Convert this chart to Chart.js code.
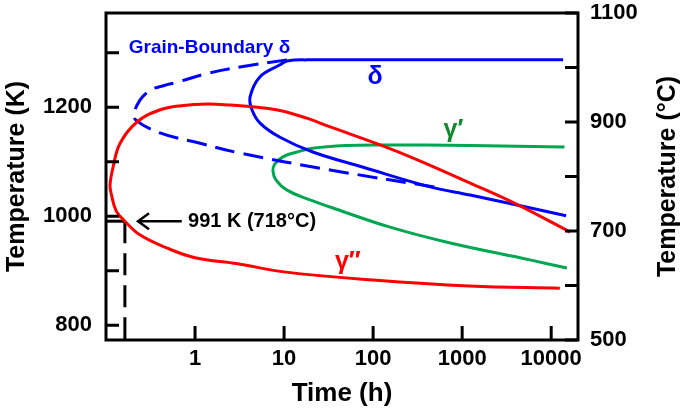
<!DOCTYPE html>
<html>
<head>
<meta charset="utf-8">
<script src="https://cdn.jsdelivr.net/npm/chart.js@4.4.0/dist/chart.umd.min.js"></script>
<style>
  html, body { margin: 0; padding: 0; background: #fff; }
</style>
</head>
<body>
<canvas id="ttt" width="685" height="414"></canvas>
<script>
// Time in hours, temperature in K
const gammaDPTime = [16300, 4240, 1230, 300, 120, 33, 18, 9, 5, 2.5, 1.4, 0.7, 0.4, 0.223, 0.144, 0.12, 0.111, 0.115, 0.13, 0.163, 0.24, 0.48, 1, 3, 10, 100, 1200, 12500];
const gammaDPTemp = [971, 1021, 1061, 1105, 1131, 1164, 1180, 1194, 1200, 1204, 1206, 1203, 1195, 1173, 1134, 1090, 1057, 1040, 1010, 991, 966, 942, 924, 913, 898, 883, 872, 868];

const deltaTime = [13600, 300, 18.2, 10.8, 9.0, 5.37, 4.15, 4.37, 5.37, 9.0, 21, 77.6, 437, 1230, 14700];
const deltaTemp = [1287, 1287, 1287, 1285, 1278, 1256, 1219, 1195, 1171, 1145, 1118, 1090, 1054, 1039, 1001];

const gbDeltaTime = [10.8, 3.2, 1.36, 0.63, 0.45, 0.33, 0.26, 0.225, 0.21, 0.215, 0.404, 1.14, 3.2, 32.9, 566];
const gbDeltaTemp = [1287, 1274, 1262, 1246, 1240, 1233, 1220, 1205, 1191, 1177, 1153, 1134, 1116, 1085, 1052];

const gammaPTime = [14100, 1230, 120, 50, 21, 14, 9.7, 7.8, 7.5, 8.1, 10.8, 19.6, 32.9, 155, 735, 5770, 15000];
const gammaPTemp = [1127, 1130, 1131, 1130, 1125, 1118, 1109, 1095, 1083, 1067, 1048, 1030, 1017, 980, 951, 920, 905];

const markTime = [0.163, 0.163];
const markTemp = [991, 773];
const markTickTime = [0.1, 0.163];
const markTickTemp = [991, 991];

const timeTicks = [1, 10, 100, 1000, 10000];
const kelvinTicks = [800, 900, 1000, 1100, 1200, 1300];
const celsiusTicks = [500, 600, 700, 800, 900, 1000, 1100];

const FONT = "'Liberation Sans', Arial, sans-serif";

function pts(xs, ys) {
  return xs.map((x, i) => ({ x: x, y: ys[i] }));
}

function curve(label, xs, ys, color, dash) {
  return {
    label: label,
    data: pts(xs, ys),
    borderColor: color,
    borderWidth: 3,
    borderDash: dash || [],
    pointRadius: 0,
    showLine: true,
    fill: false,
    tension: 0.4
  };
}

const decor = {
  id: 'decor',
  afterDraw(chart) {
    const ctx = chart.ctx;
    const a = chart.chartArea;
    const sx = chart.scales.x, sy = chart.scales.y, sc = chart.scales.yC;
    ctx.save();
    ctx.strokeStyle = '#000';
    ctx.lineWidth = 3;
    ctx.strokeRect(a.left, a.top, a.right - a.left, a.bottom - a.top);

    // inward tick marks
    ctx.beginPath();
    timeTicks.forEach(v => {
      const px = sx.getPixelForValue(v);
      ctx.moveTo(px, a.bottom); ctx.lineTo(px, a.bottom - 14);
    });
    kelvinTicks.forEach(v => {
      const py = sy.getPixelForValue(v);
      ctx.moveTo(a.left, py); ctx.lineTo(a.left + 13, py);
    });
    celsiusTicks.forEach(v => {
      const py = sc.getPixelForValue(v);
      ctx.moveTo(a.right, py); ctx.lineTo(a.right - 13, py);
    });
    ctx.stroke();

    // arrow to 991 K
    const ay = sy.getPixelForValue(991);
    const ax0 = sx.getPixelForValue(0.229), ax1 = sx.getPixelForValue(0.71);
    ctx.lineWidth = 2.5;
    ctx.beginPath();
    ctx.moveTo(ax1, ay); ctx.lineTo(ax0 + 2, ay);
    ctx.moveTo(ax0 + 11, ay - 8); ctx.lineTo(ax0, ay); ctx.lineTo(ax0 + 11, ay + 8);
    ctx.stroke();

    ctx.textBaseline = 'middle';
    ctx.textAlign = 'left';
    ctx.fillStyle = '#000';
    ctx.font = 'bold 20px ' + FONT;
    ctx.fillText('991 K (718°C)', sx.getPixelForValue(0.834), ay);

    ctx.fillStyle = '#0000ff';
    ctx.font = 'bold 19px ' + FONT;
    ctx.fillText('Grain-Boundary δ', sx.getPixelForValue(0.18), sy.getPixelForValue(1309));

    ctx.textAlign = 'center';
    ctx.font = 'bold 25px ' + FONT;
    ctx.fillText('δ', sx.getPixelForValue(105), sy.getPixelForValue(1256));

    ctx.fillStyle = '#108a2c';
    ctx.fillText('γ′', sx.getPixelForValue(800), sy.getPixelForValue(1158));

    ctx.fillStyle = '#ff0000';
    ctx.fillText('γ″', sx.getPixelForValue(52), sy.getPixelForValue(916));

    // right axis title, reads bottom to top
    ctx.fillStyle = '#000';
    ctx.font = 'bold 25px ' + FONT;
    ctx.translate(668, (a.top + a.bottom) / 2);
    ctx.rotate(-Math.PI / 2);
    ctx.fillText('Temperature (°C)', 0, 0);
    ctx.restore();
  }
};

new Chart(document.getElementById('ttt'), {
  type: 'scatter',
  data: {
    datasets: [
      curve('gamma double prime', gammaDPTime, gammaDPTemp, '#ff0000'),
      curve('delta', deltaTime, deltaTemp, '#0000ff'),
      curve('grain-boundary delta', gbDeltaTime, gbDeltaTemp, '#0000ff', [20, 9]),
      curve('gamma prime', gammaPTime, gammaPTemp, '#00a651'),
      Object.assign(curve('991 K', markTime, markTemp, '#000', [22, 10]), { tension: 0 }),
      Object.assign(curve('991 K tick', markTickTime, markTickTemp, '#000'), { tension: 0 })
    ]
  },
  options: {
    responsive: false,
    animation: false,
    layout: { padding: 0 },
    plugins: { legend: { display: false }, tooltip: { enabled: false } },
    scales: {
      x: {
        type: 'logarithmic',
        position: 'bottom',
        min: 0.1,
        max: 20000,
        grid: { display: false, drawTicks: false },
        border: { display: false },
        afterBuildTicks: s => { s.ticks = timeTicks.map(v => ({ value: v })); },
        afterFit: s => { s.height = 74; },
        ticks: {
          autoSkip: false, maxRotation: 0, padding: 6, color: '#000',
          font: { family: FONT, size: 22, weight: 'bold' },
          callback: v => String(v)
        },
        title: {
          display: true, text: 'Time (h)', color: '#000',
          padding: { top: 0, bottom: 5 },
          font: { family: FONT, size: 26, weight: 'bold' }
        }
      },
      y: {
        type: 'linear',
        position: 'left',
        min: 773,
        max: 1373,
        grid: { display: false, drawTicks: false },
        border: { display: false },
        afterBuildTicks: s => { s.ticks = kelvinTicks.map(v => ({ value: v })); },
        afterFit: s => { s.width = 106; s.paddingTop = 13; s.paddingBottom = 0; },
        ticks: {
          padding: 14, color: '#000',
          font: { family: FONT, size: 22, weight: 'bold' },
          callback: v => (v % 200 === 0 ? String(v) : '')
        },
        title: {
          display: true, text: 'Temperature (K)', color: '#000',
          padding: { top: 2, bottom: 0 },
          font: { family: FONT, size: 25, weight: 'bold' }
        }
      },
      yC: {
        type: 'linear',
        position: 'right',
        min: 500,
        max: 1100,
        grid: { display: false, drawTicks: false },
        border: { display: false },
        afterBuildTicks: s => { s.ticks = celsiusTicks.map(v => ({ value: v })); },
        afterFit: s => { s.width = 107; s.paddingTop = 13; s.paddingBottom = 0; },
        ticks: {
          padding: 12, color: '#000',
          font: { family: FONT, size: 22, weight: 'bold' },
          callback: v => (v % 200 === 100 ? String(v) : '')
        }
      }
    }
  },
  plugins: [decor]
});
</script>
</body>
</html>
